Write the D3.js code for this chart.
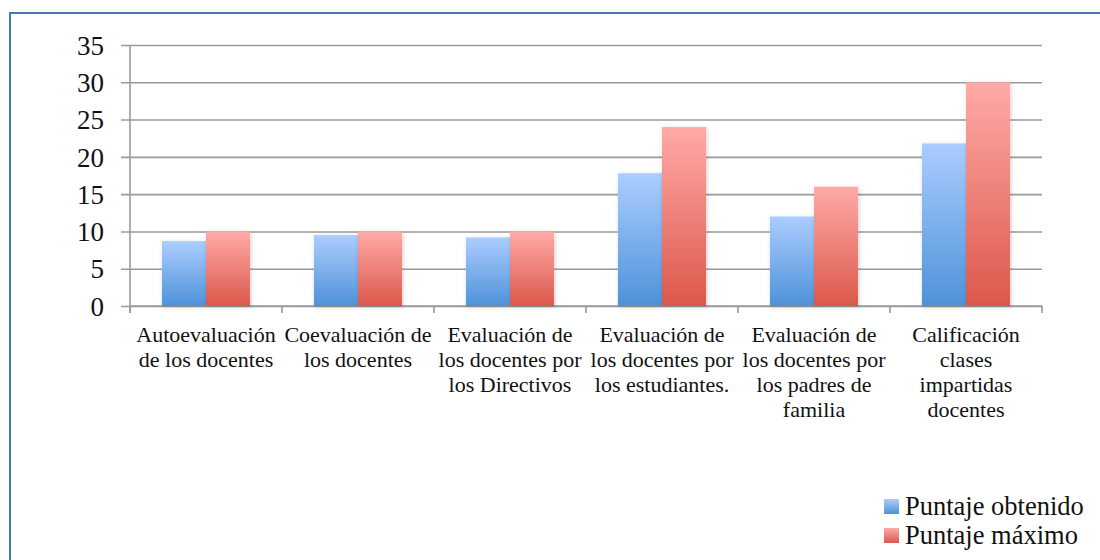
<!DOCTYPE html>
<html>
<head>
<meta charset="utf-8">
<script src="https://cdn.jsdelivr.net/npm/d3@7"></script>
<style>
  body { margin: 0; background: #fff; }
  svg { display: block; }
  text { font-family: "Liberation Serif", serif; }
</style>
</head>
<body>
<svg id="chart" width="1100" height="560"></svg>
<script>
// Chart data
const categories = [
  ["Autoevaluación", "de los docentes"],
  ["Coevaluación de", "los docentes"],
  ["Evaluación de", "los docentes por", "los Directivos"],
  ["Evaluación de", "los docentes por", "los estudiantes."],
  ["Evaluación de", "los docentes por", "los padres de", "familia"],
  ["Calificación", "clases", "impartidas", "docentes"]
];
const seriesNames = ["Puntaje obtenido", "Puntaje máximo"];
const obtenido = [8.7, 9.5, 9.2, 17.8, 12, 21.8];
const maximo = [10, 10, 10, 24, 16, 30];
const yTicks = [0, 5, 10, 15, 20, 25, 30, 35];

const serif = "Liberation Serif";

let margin = { top: 45, left: 130, right: 58, bottom: 254 },
  width = 1100 - margin.left - margin.right,
  height = 560 - margin.top - margin.bottom;

const svg = d3.select("#chart");

// gradients for the bars and legend keys
const defs = svg.append("defs");
const grads = [
  { id: "gBlue", top: "#abcdff", bottom: "#4e92d8" },
  { id: "gRed", top: "#ffaaa7", bottom: "#dc584b" }
];
grads.forEach(g => {
  let lg = defs.append("linearGradient")
    .attr("id", g.id)
    .attr("x1", 0).attr("y1", 0).attr("x2", 0).attr("y2", 1);
  lg.append("stop").attr("offset", "0%").attr("stop-color", g.top);
  lg.append("stop").attr("offset", "100%").attr("stop-color", g.bottom);
});
const shadow = defs.append("filter").attr("id", "shadow")
  .attr("x", "-20%").attr("y", "-10%").attr("width", "140%").attr("height", "120%");
shadow.append("feDropShadow")
  .attr("dx", 1).attr("dy", 1).attr("stdDeviation", 2)
  .attr("flood-color", "#000").attr("flood-opacity", 0.18);

// outer frame
svg.append("rect")
  .attr("x", 10).attr("y", 13)
  .attr("width", 1100).attr("height", 600)
  .attr("fill", "none")
  .attr("stroke", "#4a78b0")
  .attr("stroke-width", 2);

const g = svg.append("g")
  .attr("transform", "translate(" + margin.left + "," + margin.top + ")");

const x0 = d3.scaleBand().domain(d3.range(categories.length)).range([0, width]);
const x1 = d3.scaleBand().domain(seriesNames).range([x0.bandwidth() * 0.21, x0.bandwidth() * 0.79]);
const y = d3.scaleLinear().domain([0, 35]).range([height, 0]);

// y axis with gridlines
const yAxis = g.append("g")
  .call(d3.axisLeft(y).tickValues(yTicks).tickSize(0).tickPadding(26))
  .attr("font-family", serif);
yAxis.select(".domain").remove();
yAxis.selectAll(".tick line")
  .attr("x1", -9).attr("x2", width)
  .attr("stroke", "#9a9a9a").attr("stroke-width", 1.6);
yAxis.selectAll(".tick text")
  .attr("fill", "#111")
  .style("font-family", serif)
  .style("font-size", "27px")
  .attr("dy", "0.34em");

g.append("line")
  .attr("x1", 0).attr("x2", 0).attr("y1", 0).attr("y2", height + 7)
  .attr("stroke", "#9a9a9a").attr("stroke-width", 1.6);

// x axis ticks at category boundaries
const xAxis = g.append("g").attr("transform", "translate(0," + height + ")");
xAxis.append("line")
  .attr("x1", 0).attr("x2", width)
  .attr("stroke", "#9a9a9a").attr("stroke-width", 1.6);
xAxis.selectAll(".xtick")
  .data(d3.range(categories.length + 1))
  .join("line")
  .attr("class", "xtick")
  .attr("x1", d => d * x0.step()).attr("x2", d => d * x0.step())
  .attr("y1", 0).attr("y2", 7)
  .attr("stroke", "#9a9a9a").attr("stroke-width", 1.6);

// bars
const groups = g.selectAll(".grp")
  .data(categories.map((c, i) => i))
  .join("g")
  .attr("class", "grp")
  .attr("transform", i => "translate(" + x0(i) + ",0)");

groups.append("rect")
  .attr("x", x1(seriesNames[0]))
  .attr("y", i => y(obtenido[i]))
  .attr("width", x1.bandwidth())
  .attr("height", i => y(0) - y(obtenido[i]))
  .attr("fill", "url(#gBlue)")
  .attr("filter", "url(#shadow)");

groups.append("rect")
  .attr("x", x1(seriesNames[1]))
  .attr("y", i => y(maximo[i]))
  .attr("width", x1.bandwidth())
  .attr("height", i => y(0) - y(maximo[i]))
  .attr("fill", "url(#gRed)")
  .attr("filter", "url(#shadow)");

// category labels
groups.append("text")
  .attr("x", x0.bandwidth() / 2)
  .attr("y", height + 36)
  .attr("text-anchor", "middle")
  .style("font-family", serif)
  .style("font-size", "22px")
  .attr("fill", "#111")
  .selectAll("tspan")
  .data(i => categories[i])
  .join("tspan")
  .attr("x", x0.bandwidth() / 2)
  .attr("dy", (d, j) => j === 0 ? 0 : 25)
  .text(d => d);

// legend
const legend = svg.append("g").attr("transform", "translate(884,499)");
seriesNames.forEach((name, i) => {
  let row = legend.append("g").attr("transform", "translate(0," + i * 29 + ")");
  row.append("rect")
    .attr("width", 15).attr("height", 15)
    .attr("fill", i === 0 ? "url(#gBlue)" : "url(#gRed)");
  row.append("text")
    .attr("x", 21).attr("y", 16)
    .style("font-family", serif)
    .style("font-size", "26.5px")
    .attr("fill", "#111")
    .text(name);
});
</script>
</body>
</html>
